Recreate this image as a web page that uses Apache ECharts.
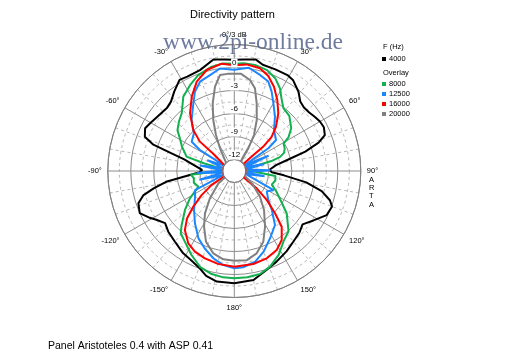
<!DOCTYPE html>
<html><head><meta charset="utf-8">
<script src="https://cdn.jsdelivr.net/npm/echarts/dist/echarts.min.js"></script>
<style>html,body{margin:0;padding:0;background:#fff}#c{width:512px;height:358px}</style>
</head><body><div id="c"></div>
<script>
// ---- data (angle in degrees, level in dB) ----
const frequencies = ['4000', '8000', '12500', '16000', '20000'];
const seriesColors = ['#000000', '#12b04e', '#1c86ff', '#ff0000', '#808080'];
const angleTickLabels = ['0°/3 dB', '30°', '60°', '90°', '120°', '150°', '180°', '-150°', '-120°', '-90°', '-60°', '-30°'];
const dbTicks = [-12, -9, -6, -3, 0, 3];

const dB4000 = [[-180,1.15],[-171,1.1],[-165,0.67],[-160.6,0.0],[-154.6,-0.55],[-148,-0.87],[-140,-1.46],[-132.6,-1.8],[-127,-2.2],[-122,-1.5],[-119,-0.9],[-114,0.0],[-108.6,-0.3],[-105,-1.2],[-102,-2.8],[-99,-4.5],[-96,-7.2],[-92,-9.0],[-88,-9.3],[-85,-9.1],[-81,-8.0],[-77,-6.8],[-74,-4.7],[-72,-2.4],[-69,-1.0],[-64.4,-0.6],[-60,-0.9],[-55,-1.2],[-47,-1.47],[-42.4,-1.25],[-37,-0.5],[-31,0.37],[-26.5,0.25],[-18.8,0.4],[-10.6,1.3],[-5,1.1],[0,1.0],[5,1.1],[11,1.3],[15,0.85],[22,0.8],[29,0.8],[33,0.6],[39,-0.2],[43.5,-1.0],[47.6,-1.2],[52,-1.1],[56,-0.85],[60,-0.6],[64,-0.5],[68.4,-0.8],[71.4,-1.9],[74.7,-3.9],[78,-6.3],[82,-8.0],[88,-8.9],[92,-8.6],[95,-7.0],[99,-4.0],[103,-1.8],[107,-0.46],[110,0.07],[115.5,-0.15],[122,-1.33],[128,-2.2],[133.5,-1.8],[140,-1.5],[147,-1.0],[155,-0.46],[162,0.07],[170,0.93],[180,1.15]];

const dB8000 = [[-180,0.5],[-174,0.45],[-167.6,0.26],[-160.3,-0.23],[-153,-1.2],[-145,-2.25],[-139.3,-2.78],[-135.7,-3.67],[-128.3,-5.3],[-121.6,-6.7],[-113.6,-8.4],[-106,-8.0],[-100,-8.15],[-95,-7.8],[-92,-10.9],[-88,-12],[-84,-12],[-80,-12],[-77.5,-11.0],[-75.7,-9.4],[-73.3,-7.0],[-65.2,-6.0],[-58.9,-5.2],[-54.3,-4.37],[-48,-3.8],[-42.4,-3.33],[-34.5,-1.75],[-27.3,-0.9],[-20.6,-0.13],[-12.2,0.42],[-5.8,0.6],[0,0.5],[5,0.6],[11,0.6],[18,0.33],[24,-0.3],[29,-1.2],[33,-2.2],[38,-3.1],[45,-3.35],[53,-4.2],[58,-5.15],[61,-6.15],[66,-6.3],[70,-6.6],[73,-7.3],[75,-8.5],[77,-10.9],[80,-12],[85,-12],[90,-12],[93,-10.5],[97,-8.1],[103,-8.0],[110,-8.3],[116,-7.4],[123,-6.2],[129,-4.7],[138,-2.93],[145,-2.3],[152,-1.14],[159.5,-0.18],[166,0.35],[173,0.46],[180,0.5]];

const dB12500 = [[-180,-0.8],[-173,-1.17],[-166.5,-1.8],[-159,-2.7],[-152,-3.55],[-143,-4.97],[-134,-6.2],[-123,-7.4],[-116,-7.8],[-110,-12],[-104,-8.8],[-98,-12],[-93,-8.6],[-87,-12],[-81,-9.0],[-75,-12],[-68,-9.7],[-62,-12],[-58.5,-8.2],[-55.5,-6.76],[-47,-6.3],[-40,-4.83],[-32,-3.37],[-26.4,-1.95],[-21,-1.02],[-14.2,-0.59],[-8,0.0],[0,-0.3],[8,0.1],[15,-0.53],[20.8,-1.02],[25.2,-2.06],[30,-3.3],[36.8,-4.64],[44,-6.05],[53.4,-6.72],[56.3,-8.15],[60,-12],[66,-8.6],[71,-12],[77,-9.5],[82,-12],[89,-8.8],[96,-12],[100,-9.5],[105,-12],[110,-12],[116,-7.8],[122,-8.5],[130.5,-7.67],[136,-6.46],[143,-4.68],[152,-3.56],[160,-2.31],[167,-1.37],[174.7,-0.89],[180,-0.8]];

const dB16000 = [[-180,-1.0],[-170,-1.2],[-161.4,-1.48],[-154,-1.79],[-147.5,-2.32],[-140,-3.47],[-135,-4.8],[-131,-6.4],[-126.4,-8.2],[-121.8,-10.0],[-118,-12],[-110,-12],[-100,-12],[-90,-12],[-80,-12],[-70,-12],[-60,-12],[-52,-12],[-50.5,-9.9],[-49.5,-7.6],[-45,-5.93],[-37.5,-4.02],[-29.8,-2.33],[-22.8,-0.86],[-15.3,0.16],[-6.7,0.6],[0,0.3],[6.6,0.5],[14,0.31],[19.7,-0.34],[25.2,-1.35],[31.2,-2.67],[37.3,-4.03],[43.3,-5.57],[47.5,-6.9],[50,-8.6],[50.5,-10.7],[52,-12],[60,-12],[70,-12],[80,-12],[90,-12],[100,-12],[110,-12],[120,-12],[125,-12],[127.7,-9.8],[131.8,-7.8],[136,-5.85],[139.6,-3.96],[145.5,-2.58],[151.8,-1.8],[159.6,-1.35],[168.5,-1.12],[180,-1.0]];

const dB20000 = [[-180,-1.8],[-172.9,-1.89],[-165.7,-2.41],[-158.2,-3.56],[-151.5,-5.23],[-145.3,-6.78],[-138.3,-8.7],[-127.6,-10.9],[-124,-12],[-115,-12],[-105,-12],[-95,-12],[-85,-12],[-75,-12],[-65,-12],[-55,-12],[-45,-12],[-35,-12],[-32.2,-10.0],[-27,-8.23],[-22.4,-6.3],[-17.7,-4.24],[-12.9,-2.22],[-8.5,-0.85],[-4,-0.8],[0,-0.8],[4,-0.8],[9.8,-1.46],[14,-2.37],[18.3,-4.2],[23.7,-6.2],[28.7,-8.15],[31.7,-10.0],[35,-12],[45,-12],[55,-12],[65,-12],[75,-12],[85,-12],[95,-12],[105,-12],[115,-12],[121,-12],[125,-10.7],[135,-8.76],[142.7,-7.1],[151.1,-5.2],[157.7,-3.53],[164.8,-2.37],[172,-1.76],[180,-1.8]];

const seriesData = [dB4000, dB8000, dB12500, dB16000, dB20000];

// ---- chart ----
const FONT = 'Liberation Sans, Arial, sans-serif';
const chart = echarts.init(document.getElementById('c'), null, {renderer: 'canvas'});
const CENTER = [234.3, 171];
const RADIUS = [11.5, 126.5];
const minDb = dbTicks[0], maxDb = dbTicks[dbTicks.length - 1];

const lineSeries = frequencies.map((f, i) => ({
  name: f,
  type: 'line',
  coordinateSystem: 'polar',
  polarIndex: 0,
  showSymbol: false,
  symbol: 'none',
  smooth: false,
  silent: true,
  animation: false,
  itemStyle: {color: seriesColors[i]},
  lineStyle: {color: seriesColors[i], width: 2},
  data: seriesData[i].map(([a, v]) => [Math.max(v, minDb), (a + 360) % 360])
}));

const legendCommon = {
  orient: 'vertical', left: 382, itemWidth: 4, itemHeight: 4, icon: 'rect',
  itemGap: 2, padding: 0, selectedMode: false,
  textStyle: {fontSize: 7.5, lineHeight: 8, color: '#000', fontFamily: FONT, padding: [0, 0, 0, -2]}
};

chart.setOption({
  animation: false,
  backgroundColor: '#fff',
  title: {
    text: 'Directivity pattern', left: 190, top: 9, padding: 0,
    textStyle: {fontSize: 11, fontWeight: 'normal', color: '#000', fontFamily: FONT}
  },
  legend: [
    Object.assign({}, legendCommon, {top: 55, data: [frequencies[0]]}),
    Object.assign({}, legendCommon, {top: 80, data: frequencies.slice(1)})
  ],
  polar: [
    {center: CENTER, radius: RADIUS},
    {center: CENTER, radius: RADIUS}
  ],
  angleAxis: [
    {
      polarIndex: 0, type: 'value', min: 0, max: 360, interval: 30,
      startAngle: 90, clockwise: true,
      axisLine: {lineStyle: {color: '#808080', width: 1}},
      axisTick: {show: false},
      axisLabel: {
        margin: 6, fontSize: 7.5, color: '#000', fontFamily: FONT,
        formatter: v => angleTickLabels[Math.round(v / 30) % 12]
      },
      splitLine: {show: true, lineStyle: {color: '#8c8c8c', width: 1}},
      minorTick: {show: false, splitNumber: 3},
      minorSplitLine: {show: true, lineStyle: {color: '#b8b8b8', width: 1, type: [3, 3]}}
    },
    {
      polarIndex: 1, type: 'value', min: 0, max: 360, interval: 30,
      startAngle: 90, clockwise: true,
      axisLine: {show: false}, axisTick: {show: false}, axisLabel: {show: false},
      splitLine: {show: false}
    }
  ],
  radiusAxis: [
    {
      polarIndex: 0, type: 'value', min: minDb, max: maxDb, interval: 3,
      axisLine: {show: false}, axisTick: {show: false}, axisLabel: {show: false},
      splitLine: {show: true, lineStyle: {color: '#8c8c8c', width: 1}},
      minorTick: {show: false, splitNumber: 2},
      minorSplitLine: {show: true, lineStyle: {color: '#b8b8b8', width: 1, type: [3, 3]}}
    },
    {
      polarIndex: 1, type: 'value', min: minDb, max: maxDb, interval: 3, z: 10,
      axisLine: {show: false}, axisTick: {show: false}, splitLine: {show: false},
      axisLabel: {
        show: true, margin: 0, align: 'center', verticalAlign: 'bottom',
        fontSize: 8, color: '#000', fontFamily: FONT,
        backgroundColor: '#fff', padding: [0, 1, 1, 1],
        formatter: v => (v === maxDb ? '' : String(v))
      }
    }
  ],
  graphic: [
    {type: 'text', left: 163, top: 31, z: 20, silent: true,
     style: {text: 'www.2pi-online.de', fontFamily: 'Liberation Serif, Times New Roman, serif', fontSize: 23.5, fill: 'rgba(78,94,136,0.82)'}},
    {type: 'text', left: 383, top: 43, silent: true,
     style: {text: 'F (Hz)', fontFamily: FONT, fontSize: 7.5, fill: '#000'}},
    {type: 'text', left: 383, top: 69, silent: true,
     style: {text: 'Overlay', fontFamily: FONT, fontSize: 7.5, fill: '#000'}},
    {type: 'text', left: 369, top: 175.5, silent: true,
     style: {text: 'A\nR\nT\nA', fontFamily: FONT, fontSize: 7.5, lineHeight: 8.3, fill: '#000', align: 'center'}},
    {type: 'text', left: 48, top: 341, silent: true,
     style: {text: 'Panel Aristoteles 0.4 with ASP 0.41', fontFamily: FONT, fontSize: 10.5, fill: '#000'}}
  ],
  series: lineSeries
});
</script>
</body></html>
